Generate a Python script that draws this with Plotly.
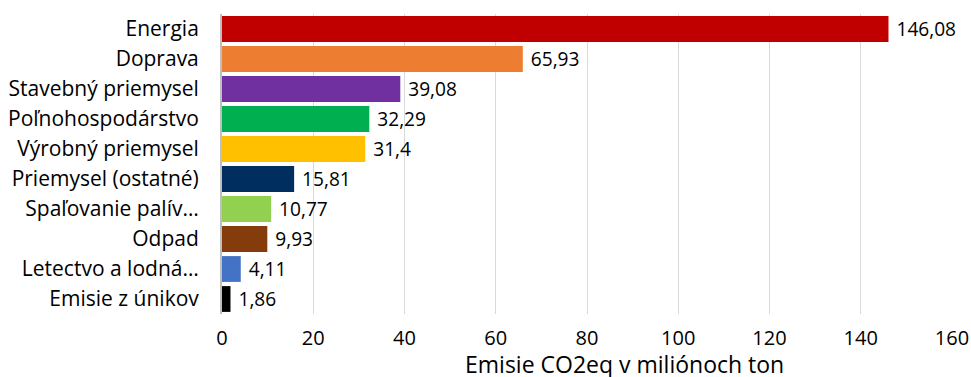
import plotly.graph_objects as go

# Sectors, ordered from largest to smallest emitter
sectors = [
    "Energia",
    "Doprava",
    "Stavebný priemysel",
    "Poľnohospodárstvo",
    "Výrobný priemysel",
    "Priemysel (ostatné)",
    "Spaľovanie palív…",
    "Odpad",
    "Letectvo a lodná…",
    "Emisie z únikov",
]
emissions = [146.08, 65.93, 39.08, 32.29, 31.4, 15.81, 10.77, 9.93, 4.11, 1.86]
colors = [
    "#C00000", "#ED7D31", "#7030A0", "#00B050", "#FFC000",
    "#002E5F", "#92D050", "#843C0C", "#4472C4", "#000000",
]
x_ticks = [0, 20, 40, 60, 80, 100, 120, 140, 160]

labels = [" " + f"{v:g}".replace(".", ",") for v in emissions]

FONT = "Open Sans"

fig = go.Figure(
    go.Bar(
        x=emissions,
        y=sectors,
        orientation="h",
        marker=dict(color=colors, line=dict(width=0)),
        text=labels,
        textposition="outside",
        textfont=dict(family=FONT, size=20, color="#000000"),
        cliponaxis=False,
    )
)

fig.update_layout(
    width=971,
    height=377,
    margin=dict(l=222, r=19, t=14, b=63, autoexpand=False),
    paper_bgcolor="white",
    plot_bgcolor="white",
    bargap=0.14,
    showlegend=False,
    font=dict(family=FONT, color="#000000"),
    xaxis=dict(
        range=[0, 160],
        tickvals=x_ticks,
        ticktext=[str(t) for t in x_ticks],
        showgrid=True,
        gridcolor="#D9D9D9",
        gridwidth=1,
        zeroline=False,
        showline=False,
        ticks="",
        tickfont=dict(family=FONT, size=20),
        ticklabelstandoff=10,
        automargin=False,
    ),
    yaxis=dict(
        autorange="reversed",
        showgrid=False,
        zeroline=False,
        showline=True,
        linecolor="#BFBFBF",
        linewidth=2,
        ticks="",
        tickfont=dict(family=FONT, size=21),
        ticklabelstandoff=17,
        automargin=False,
    ),
    annotations=[
        dict(
            text="Emisie CO2eq v miliónoch ton",
            xref="paper", yref="paper",
            x=0.552, y=-0.167,
            xanchor="center", yanchor="middle",
            showarrow=False,
            font=dict(family=FONT, size=23),
        )
    ],
)

fig.write_html("out.html")
